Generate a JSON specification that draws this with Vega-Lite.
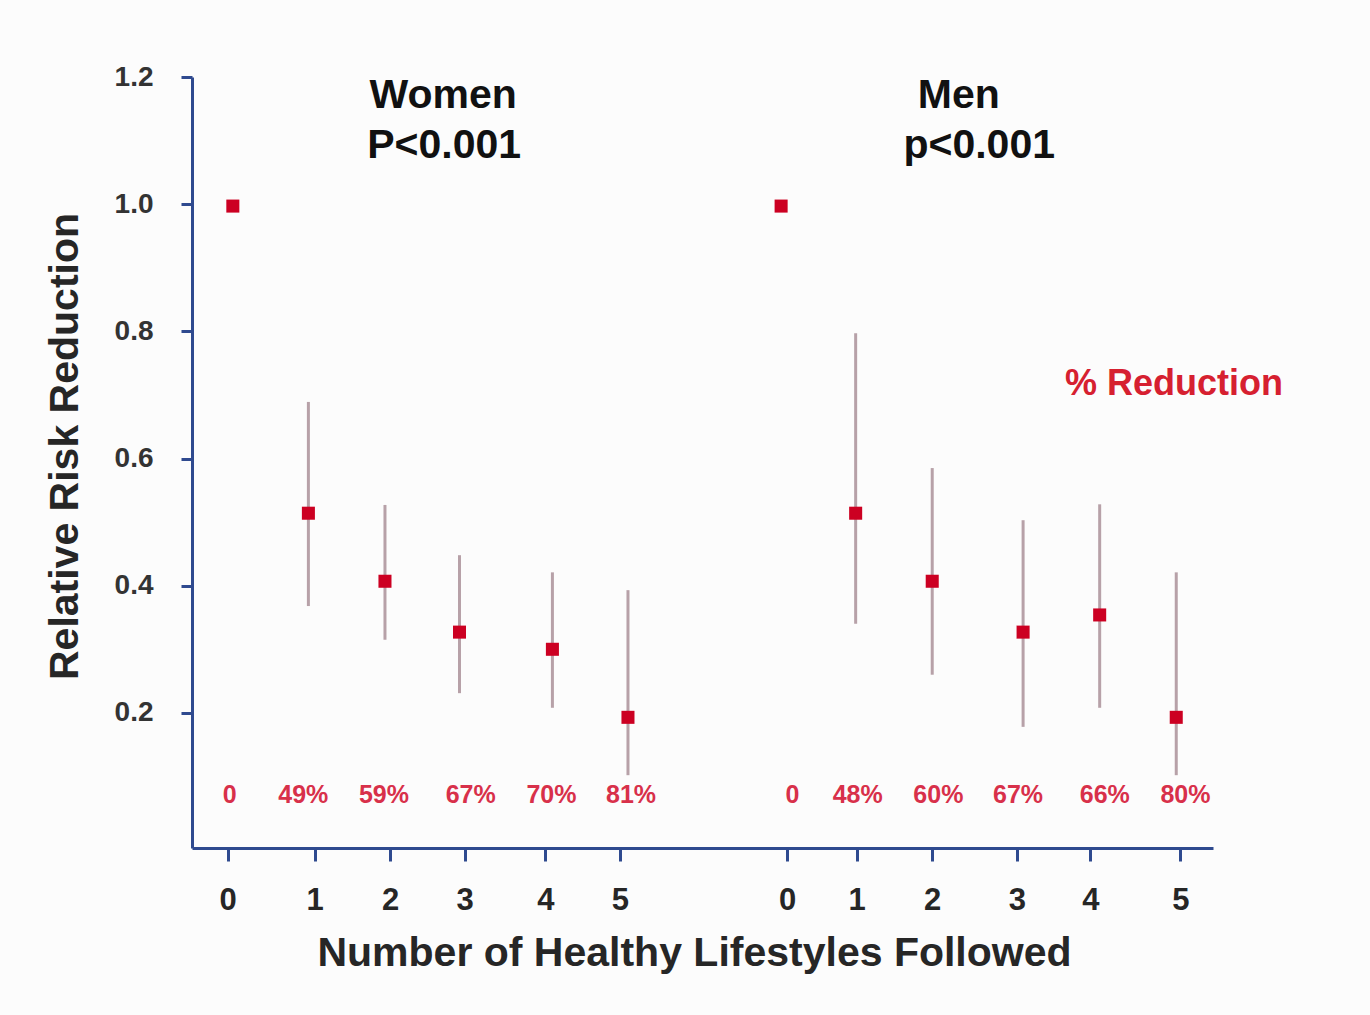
{
  "$schema": "https://vega.github.io/schema/vega-lite/v6.json",
  "width": 1021,
  "height": 771,
  "autosize": {"type": "none"},
  "padding": {"left": 192, "top": 77, "right": 157, "bottom": 167},
  "background": "#fcfcfc",
  "config": {"view": {"stroke": null}, "font": "Liberation Sans"},
  "datasets": {
    "risk": [
      {"sex": "Women", "n": 0, "pos": 4.0, "rr": 0.997, "lo": null, "hi": null},
      {"sex": "Women", "n": 1, "pos": 11.4, "rr": 0.514, "lo": 0.368, "hi": 0.689},
      {"sex": "Women", "n": 2, "pos": 18.9, "rr": 0.407, "lo": 0.315, "hi": 0.527},
      {"sex": "Women", "n": 3, "pos": 26.2, "rr": 0.327, "lo": 0.231, "hi": 0.448},
      {"sex": "Women", "n": 4, "pos": 35.3, "rr": 0.300, "lo": 0.208, "hi": 0.421},
      {"sex": "Women", "n": 5, "pos": 42.7, "rr": 0.193, "lo": 0.102, "hi": 0.393},
      {"sex": "Men", "n": 0, "pos": 57.7, "rr": 0.997, "lo": null, "hi": null},
      {"sex": "Men", "n": 1, "pos": 65.0, "rr": 0.514, "lo": 0.340, "hi": 0.797},
      {"sex": "Men", "n": 2, "pos": 72.5, "rr": 0.407, "lo": 0.260, "hi": 0.585},
      {"sex": "Men", "n": 3, "pos": 81.4, "rr": 0.327, "lo": 0.178, "hi": 0.503},
      {"sex": "Men", "n": 4, "pos": 88.9, "rr": 0.354, "lo": 0.208, "hi": 0.528},
      {"sex": "Men", "n": 5, "pos": 96.4, "rr": 0.193, "lo": 0.102, "hi": 0.421}
    ],
    "pct": [
      {"pos": 3.7, "label": "0"},
      {"pos": 10.9, "label": "49%"},
      {"pos": 18.8, "label": "59%"},
      {"pos": 27.3, "label": "67%"},
      {"pos": 35.2, "label": "70%"},
      {"pos": 43.0, "label": "81%"},
      {"pos": 58.8, "label": "0"},
      {"pos": 65.2, "label": "48%"},
      {"pos": 73.1, "label": "60%"},
      {"pos": 80.9, "label": "67%"},
      {"pos": 89.4, "label": "66%"},
      {"pos": 97.3, "label": "80%"}
    ],
    "titles": [
      {"pos": 24.6, "y": 1.170, "text": "Women"},
      {"pos": 24.7, "y": 1.091, "text": "P<0.001"},
      {"pos": 75.1, "y": 1.170, "text": "Men"},
      {"pos": 77.1, "y": 1.091, "text": "p<0.001"}
    ],
    "note": [{"pos": 85.5, "y": 0.717, "text": "% Reduction"}]
  },
  "layer": [
    {
      "data": {"name": "risk"},
      "transform": [{"filter": "datum.lo != null"}],
      "mark": {"type": "rule", "color": "#b7a1a8", "strokeWidth": 3},
      "encoding": {
        "x": {
          "field": "pos", "type": "quantitative",
          "scale": {"domain": [0, 100], "nice": false, "zero": false},
          "axis": {
            "values": [3.5, 12, 19.4, 26.7, 34.6, 41.9, 58.3, 65.1, 72.5, 80.8, 88, 96.8],
            "labelExpr": "['0','1','2','3','4','5','0','1','2','3','4','5'][indexof([3.5,12,19.4,26.7,34.6,41.9,58.3,65.1,72.5,80.8,88,96.8], datum.value)]",
            "title": "Number of Healthy Lifestyles Followed",
            "grid": false,
            "domainColor": "#2f4a8f", "domainWidth": 3,
            "tickColor": "#2f4a8f", "tickWidth": 3, "tickSize": 13,
            "labelFont": "Liberation Sans", "labelFontWeight": "bold", "labelFontSize": 31, "labelColor": "#262626",
            "labelPadding": 24,
            "titleFont": "Liberation Sans", "titleFontWeight": "bold", "titleFontSize": 41, "titleColor": "#262626",
            "titlePadding": 18,
            "titleX": 502
          }
        },
        "y": {
          "field": "lo", "type": "quantitative",
          "scale": {"domain": [-0.0125, 1.2], "nice": false, "zero": false},
          "axis": {
            "values": [0.2, 0.4, 0.6, 0.8, 1.0, 1.2],
            "format": ".1f",
            "title": "Relative Risk Reduction",
            "grid": false,
            "domainColor": "#2f4a8f", "domainWidth": 3,
            "tickColor": "#2f4a8f", "tickWidth": 3, "tickSize": 11,
            "labelFont": "Liberation Sans", "labelFontWeight": "bold", "labelFontSize": 28, "labelColor": "#333333",
            "labelPadding": 28,
            "titleFont": "Liberation Sans", "titleFontWeight": "bold", "titleFontSize": 41, "titleColor": "#262626",
            "titlePadding": 28,
            "titleY": 369
          }
        },
        "y2": {"field": "hi"}
      }
    },
    {
      "data": {"name": "risk"},
      "mark": {"type": "point", "shape": "square", "filled": true, "color": "#cc0022", "size": 170, "opacity": 1},
      "encoding": {
        "x": {"field": "pos", "type": "quantitative"},
        "y": {"field": "rr", "type": "quantitative"}
      }
    },
    {
      "data": {"name": "pct"},
      "mark": {"type": "text", "color": "#d8304a", "fontWeight": "bold", "fontSize": 25, "font": "Liberation Sans", "baseline": "middle", "align": "center"},
      "encoding": {
        "x": {"field": "pos", "type": "quantitative"},
        "y": {"datum": 0.071, "type": "quantitative"},
        "text": {"field": "label"}
      }
    },
    {
      "data": {"name": "titles"},
      "mark": {"type": "text", "color": "#111111", "fontWeight": "bold", "fontSize": 41, "font": "Liberation Sans", "baseline": "middle", "align": "center"},
      "encoding": {
        "x": {"field": "pos", "type": "quantitative"},
        "y": {"field": "y", "type": "quantitative"},
        "text": {"field": "text"}
      }
    },
    {
      "data": {"name": "note"},
      "mark": {"type": "text", "color": "#d62030", "fontWeight": "bold", "fontSize": 36, "font": "Liberation Sans", "baseline": "middle", "align": "left"},
      "encoding": {
        "x": {"field": "pos", "type": "quantitative"},
        "y": {"field": "y", "type": "quantitative"},
        "text": {"field": "text"}
      }
    }
  ]
}
